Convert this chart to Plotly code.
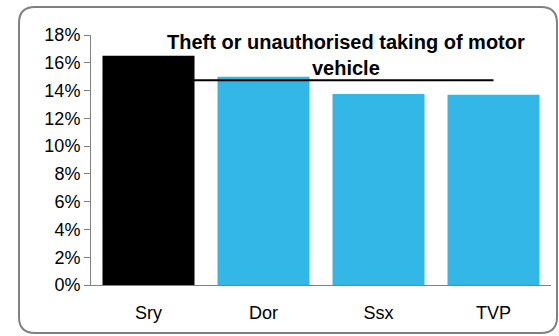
import plotly.graph_objects as go

# dados do gráfico
areas = ["Sry", "Dor", "Ssx", "TVP"]
valores = [16.5, 15.0, 13.75, 13.7]
cores = ["#000000", "#33B7E7", "#33B7E7", "#33B7E7"]
media = [14.75, 14.75, 14.75, 14.75]
ticks_y = [0, 2, 4, 6, 8, 10, 12, 14, 16, 18]
titulo = "<b>Theft or unauthorised taking of motor<br>vehicle</b>"

W, H = 559, 336
ml, mr, mt, mb = 91, 8, 35, 51
pw, ph = W - ml - mr, H - mt - mb

# converte pixel para coordenadas paper
def px(x):
    return (x - ml) / pw

def py(y):
    return (H - mb - y) / ph

fig = go.Figure()
fig.add_trace(go.Bar(x=areas, y=valores, marker=dict(color=cores, line=dict(width=0)),
                     showlegend=False))
fig.add_trace(go.Scatter(x=areas, y=media, mode="lines",
                         line=dict(color="black", width=2), showlegend=False))

# borda arredondada em volta do gráfico
x0, x1, y0, y1, r = 19, 557, 7, 333, 16
caminho = (f"M {px(x0 + r)} {py(y0)} L {px(x1 - r)} {py(y0)} "
           f"Q {px(x1)} {py(y0)} {px(x1)} {py(y0 + r)} "
           f"L {px(x1)} {py(y1 - r)} Q {px(x1)} {py(y1)} {px(x1 - r)} {py(y1)} "
           f"L {px(x0 + r)} {py(y1)} Q {px(x0)} {py(y1)} {px(x0)} {py(y1 - r)} "
           f"L {px(x0)} {py(y0 + r)} Q {px(x0)} {py(y0)} {px(x0 + r)} {py(y0)} Z")
fig.add_shape(type="path", path=caminho, xref="paper", yref="paper",
              line=dict(color="#808080", width=2), layer="below")

fig.add_annotation(text=titulo, xref="paper", yref="paper", x=px(346), y=py(29),
                   xanchor="center", yanchor="top", showarrow=False,
                   font=dict(size=20, color="black"))

fig.update_layout(
    width=W, height=H,
    margin=dict(l=ml, r=mr, t=mt, b=mb),
    paper_bgcolor="white", plot_bgcolor="white",
    font=dict(family="Arial, Liberation Sans, sans-serif", color="black", size=18),
    bargap=0.2,
)
fig.update_xaxes(showline=True, linecolor="#808080", linewidth=1, ticks="",
                 ticklabelstandoff=11, showgrid=False)
fig.update_yaxes(range=[0, 18], tickvals=ticks_y, ticktext=[f"{t}%" for t in ticks_y],
                 showline=True, linecolor="#808080", linewidth=1, ticks="outside",
                 ticklen=6, tickcolor="#808080", showgrid=False, zeroline=False)

# tira a margem do body da pagina
fig.write_html("out.html", config={"displayModeBar": False},
               post_script="document.body.style.margin='0px';")
